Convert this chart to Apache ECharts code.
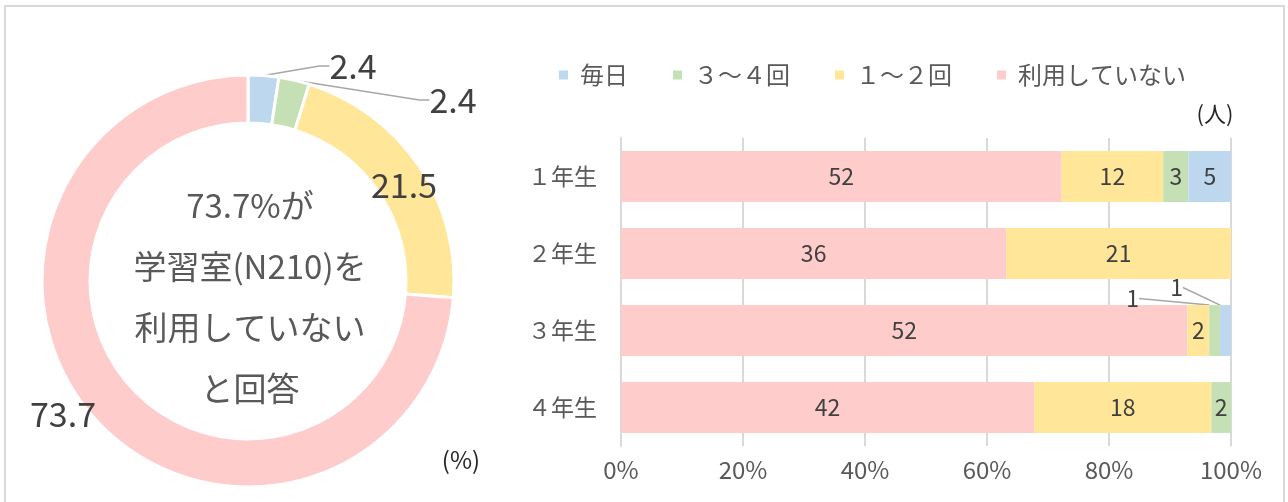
<!DOCTYPE html>
<html>
<head>
<meta charset="utf-8">
<script src="https://cdn.jsdelivr.net/npm/echarts@6/dist/echarts.min.js"></script>
<style>
html, body { margin: 0; padding: 0; background: #fff; }
#chart { width: 1288px; height: 502px; }
</style>
</head>
<body>
<div id="chart"></div>
<script>
// 学年別の人数
var grades = ['１年生', '２年生', '３年生', '４年生'];
var mainichi = [5, 0, 1, 0];
var san = [3, 0, 1, 2];
var ichi = [12, 21, 2, 18];
var nashi = [52, 36, 52, 42];
// 円グラフ（%）
var pieNames = ['毎日', '３～４回', '１～２回', '利用していない'];
var pieValues = [2.4, 2.4, 21.5, 73.7];
var xTicks = [0, 20, 40, 60, 80, 100];

var colors = {
    '毎日': '#BDD7EE',
    '３～４回': '#C5E0B4',
    '１～２回': '#FFE699',
    '利用していない': '#FFCCCC'
};
var font = '"Noto Sans CJK JP", "Noto Sans", sans-serif';

var chart = echarts.init(document.getElementById('chart'));

var totals = grades.map(function (g, i) {
    return mainichi[i] + san[i] + ichi[i] + nashi[i];
});
function pct(arr) {
    return arr.map(function (v, i) { return v / totals[i] * 100; });
}
function barSeries(name, arr) {
    return {
        name: name,
        type: 'bar',
        stack: 'all',
        barCategoryGap: '34%',
        data: pct(arr),
        itemStyle: { color: colors[name] },
        label: {
            show: true,
            position: 'inside',
            color: '#404040',
            fontSize: 23,
            fontFamily: font,
            formatter: function (p) { return arr[p.dataIndex] ? String(arr[p.dataIndex]) : ''; }
        },
        labelLine: { show: true, lineStyle: { color: '#a6a6a6', width: 1.5 } },
        emphasis: { disabled: true }
    };
}

var pieLabelPos = [[353, 66], [453, 100], [404, 185], [63, 414]];

var option = {
    animation: false,
    textStyle: { fontFamily: font },
    legend: {
        data: pieNames,
        top: 58,
        left: 554,
        icon: 'rect',
        itemWidth: 9,
        itemHeight: 9,
        itemGap: 45,
        textStyle: { fontSize: 24, color: '#595959', fontFamily: font, padding: [0, 0, 0, 7] }
    },
    grid: { left: 621, right: 57, top: 138, bottom: 56 },
    xAxis: {
        type: 'value',
        min: 0,
        max: 100,
        interval: 20,
        axisLine: { show: false },
        axisTick: { show: false },
        splitLine: { lineStyle: { color: '#d9d9d9', width: 2 } },
        axisLabel: {
            color: '#595959', fontSize: 24, margin: 12, fontFamily: font,
            formatter: function (v) { return xTicks.indexOf(v) >= 0 ? v + '%' : ''; }
        }
    },
    yAxis: {
        type: 'category',
        data: grades,
        inverse: true,
        axisLine: { lineStyle: { color: '#d9d9d9', width: 2 } },
        axisTick: { show: false },
        axisLabel: { color: '#595959', fontSize: 23, margin: 24, fontFamily: font }
    },
    series: [
        {
            name: 'donut',
            type: 'pie',
            center: [248, 281],
            radius: [158, 206],
            startAngle: 90,
            clockwise: true,
            legendHoverLink: false,
            emphasis: { disabled: true },
            data: pieNames.map(function (n, i) {
                return {
                    name: n,
                    value: pieValues[i],
                    itemStyle: { color: colors[n] },
                    label: { position: i < 2 ? 'outside' : 'inside' },
                    labelLine: { show: i < 2 }
                };
            }),
            itemStyle: { borderColor: '#fff', borderWidth: 3 },
            label: {
                show: true,
                position: 'outside',
                color: '#404040',
                fontSize: 34,
                fontFamily: font,
                overflow: 'none',
                formatter: function (p) { return p.value.toFixed(1); }
            },
            labelLine: { show: true, length: 15, length2: 10, lineStyle: { color: '#a6a6a6', width: 1.5 } },
            labelLayout: function (p) {
                var pos = pieLabelPos[p.dataIndex];
                return { x: pos[0], y: pos[1], align: 'center', verticalAlign: 'middle' };
            }
        },
        barSeries('利用していない', nashi),
        barSeries('１～２回', ichi),
        barSeries('３～４回', san),
        barSeries('毎日', mainichi)
    ],
    graphic: [
        {
            type: 'rect',
            shape: { x: 5, y: 6, width: 1279, height: 520 },
            style: { fill: 'none', stroke: '#d9d9d9', lineWidth: 2 },
            silent: true
        },
        {
            type: 'text',
            x: 250,
            y: 297,
            style: {
                text: '73.7%が\n学習室(N210)を\n利用していない\nと回答',
                fontSize: 33,
                lineHeight: 61,
                fill: '#595959',
                fontFamily: font,
                textAlign: 'center',
                textVerticalAlign: 'middle'
            }
        },
        {
            type: 'text',
            x: 461,
            y: 460,
            style: { text: '(%)', fontSize: 24, fill: '#262626', fontFamily: font, textAlign: 'center', textVerticalAlign: 'middle' }
        },
        {
            type: 'text',
            x: 1215,
            y: 114,
            style: { text: '(人)', fontSize: 22, fill: '#262626', fontFamily: font, textAlign: 'center', textVerticalAlign: 'middle' }
        }
    ]
};

// ３年生の小さい区間はラベルを外に出す
option.series[3].labelLayout = function (p) {
    if (p.dataIndex === 2) return { dx: -82, dy: -32 };
    return {};
};
option.series[4].labelLayout = function (p) {
    if (p.dataIndex === 2) return { dx: -49, dy: -43 };
    return {};
};

chart.setOption(option);
</script>
</body>
</html>
